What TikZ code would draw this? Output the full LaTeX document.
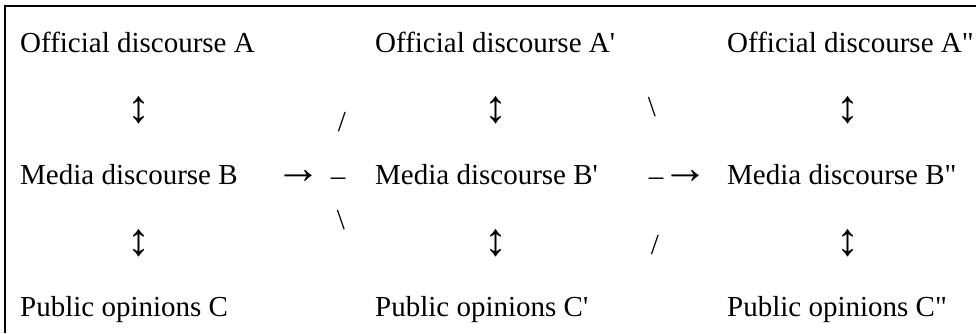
\documentclass[tikz,border=0pt]{standalone}
\usepackage{fontspec}
\setmainfont{Liberation Serif}[Ligatures=TeXOff]
\begin{document}
\begin{tikzpicture}[x=1pt,y=-1pt,
  every node/.style={inner sep=0pt, font=\fontsize{29}{34}\selectfont},
  lbl/.style={anchor=base west},
  sym/.style={anchor=center},
  arr/.style={anchor=center, font=\fontsize{46}{50}\selectfont},
  frame/.style={line width=2.5pt}]
\useasboundingbox (0,0) rectangle (976,333);
\coordinate (fb) at (5,333);
\coordinate (fc) at (5,6);
\coordinate (fr) at (976,6);
\draw[frame] (fb) -- (fc) -- (fr);
% column 1
\node[lbl] (A1) at (20,52) {Official discourse A};
\node[lbl] (B1) at (20,184) {Media discourse B};
\node[lbl] (C1) at (20,316) {Public opinions C};
\node[arr] (u1) at (139,110) {↕};
\node[arr] (d1) at (139,243) {↕};
% column 2
\node[lbl] (A2) at (375,52) {Official discourse A'};
\node[lbl] (B2) at (375,184) {Media discourse B'};
\node[lbl] (C2) at (375,316) {Public opinions C'};
\node[arr] (u2) at (496,110) {↕};
\node[arr] (d2) at (496,243) {↕};
% column 3
\node[lbl] (A3) at (727,52) {Official discourse A"};
\node[lbl] (B3) at (727,184) {Media discourse B"};
\node[lbl] (C3) at (727,316) {Public opinions C"};
\node[arr] (u3) at (848,110) {↕};
\node[arr] (d3) at (848,243) {↕};
% links between columns 1 and 2
\node[arr] (r1) at (298,177) {→};
\node[sym] (h1) at (338,182) {–};
\node[sym] (s1) at (342,122) {/};
\node[sym] (b1) at (341,220) {\textbackslash};
% links between columns 2 and 3
\node[sym] (h2) at (656,182) {–};
\node[arr] (r2) at (685,177) {→};
\node[sym] (b2) at (652,107) {\textbackslash};
\node[sym] (s2) at (655,245) {/};
\end{tikzpicture}
\end{document}
